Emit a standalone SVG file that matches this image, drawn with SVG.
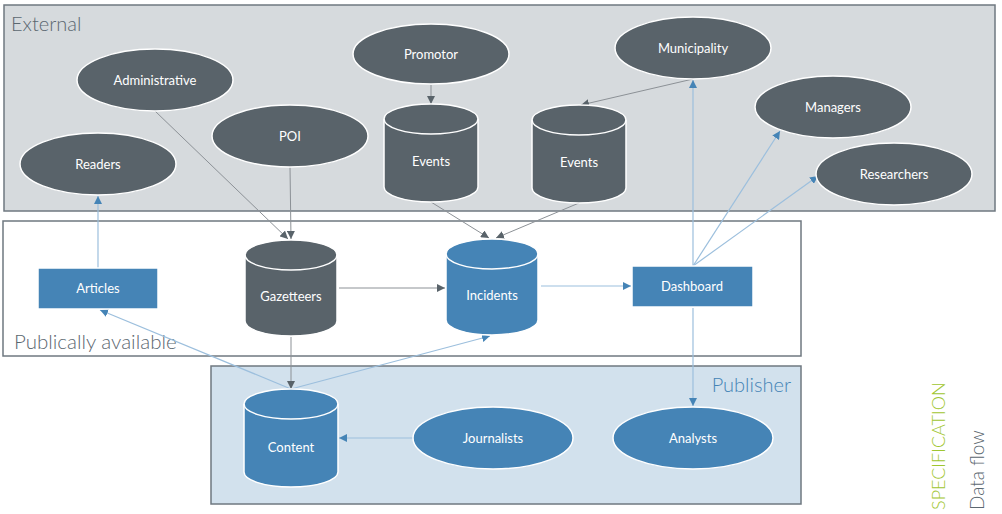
<svg xmlns="http://www.w3.org/2000/svg" width="1002" height="514" viewBox="0 0 1002 514">
<style>
.lbl{font-family:Lato,"Open Sans","Liberation Sans",sans-serif;font-size:13px;fill:#ffffff;text-anchor:middle}
.title{font-family:Lato,"Open Sans","Liberation Sans",sans-serif;font-weight:300}
.dark{fill:#59636a;stroke:#ffffff;stroke-width:1.5}
.blue{fill:#4584b6;stroke:#ffffff;stroke-width:1.5}
.cap{fill:none;stroke:#ffffff;stroke-width:1.5}
.gl{stroke:#8c9196;stroke-width:1;fill:none;marker-end:url(#ag)}
.bl{stroke:#9cbfdd;stroke-width:1.2;fill:none;marker-end:url(#ab)}
</style>
<defs>
<marker id="ag" viewBox="0 0 8 8" refX="8" refY="4" markerWidth="8" markerHeight="8" markerUnits="userSpaceOnUse" orient="auto"><path d="M0,0 L8,4 L0,8 z" fill="#59636a"/></marker>
<marker id="ab" viewBox="0 0 8 8" refX="8" refY="4" markerWidth="8" markerHeight="8" markerUnits="userSpaceOnUse" orient="auto"><path d="M0,0 L8,4 L0,8 z" fill="#4584b6"/></marker>
</defs>
<rect width="1002" height="514" fill="#ffffff"/>
<g id="zone-external">
<rect x="4" y="5" width="991" height="206" fill="#d6dadd" stroke="#6f7880" stroke-width="1.5"/>
<text class="title" x="11" y="31" fill="#5b6770" font-size="20">External</text>
</g>
<g id="zone-public">
<rect x="3" y="221" width="798" height="135" fill="#ffffff" stroke="#6f7880" stroke-width="1.5"/>
<text class="title" x="14" y="349" fill="#5b6770" font-size="20.5">Publically available</text>
</g>
<g id="zone-publisher">
<rect x="211" y="366" width="590" height="138" fill="#d2e1ed" stroke="#6f7880" stroke-width="1.5"/>
<text class="title" x="791" y="392" fill="#4584b6" text-anchor="end" font-size="20">Publisher</text>
</g>
<g id="connectors">
<line class="gl" x1="431" y1="85" x2="431" y2="104"/>
<line class="gl" x1="693" y1="79" x2="581" y2="105"/>
<line class="gl" x1="155" y1="111" x2="288" y2="239"/>
<line class="gl" x1="290" y1="167" x2="291" y2="239"/>
<line class="gl" x1="431" y1="202" x2="489" y2="238"/>
<line class="gl" x1="579" y1="203" x2="496" y2="238"/>
<line class="gl" x1="339" y1="288" x2="445" y2="288"/>
<line class="gl" x1="291" y1="337" x2="291" y2="389"/>
<line class="bl" x1="98" y1="268" x2="98" y2="196"/>
<line class="bl" x1="541" y1="286" x2="631" y2="286"/>
<line class="bl" x1="693" y1="266" x2="693" y2="80"/>
<line class="bl" x1="693" y1="266" x2="780" y2="131"/>
<line class="bl" x1="693" y1="266" x2="818" y2="176"/>
<line class="bl" x1="693" y1="308" x2="693" y2="406"/>
<line class="bl" x1="291" y1="389" x2="100" y2="310"/>
<line class="bl" x1="291" y1="389" x2="490" y2="336"/>
<line class="bl" x1="413" y1="438" x2="339" y2="438"/>
</g>
<g id="administrative"><ellipse class="dark" cx="155" cy="80" rx="78" ry="31"/><text class="lbl" x="155" y="85">Administrative</text></g>
<g id="poi"><ellipse class="dark" cx="290" cy="136" rx="78" ry="31"/><text class="lbl" x="290" y="141">POI</text></g>
<g id="readers"><ellipse class="dark" cx="98" cy="164" rx="78" ry="31"/><text class="lbl" x="98" y="169">Readers</text></g>
<g id="promotor"><ellipse class="dark" cx="431" cy="54" rx="78" ry="30"/><text class="lbl" x="431" y="59">Promotor</text></g>
<g id="municipality"><ellipse class="dark" cx="693" cy="48" rx="78" ry="31"/><text class="lbl" x="693" y="53">Municipality</text></g>
<g id="managers"><ellipse class="dark" cx="833" cy="107" rx="78" ry="31"/><text class="lbl" x="833" y="112">Managers</text></g>
<g id="researchers"><ellipse class="dark" cx="894" cy="174" rx="78" ry="31"/><text class="lbl" x="894" y="179">Researchers</text></g>
<g id="events-1">
<path class="dark" d="M384,119 A47,15 0 0 1 478,119 V187 A47,15 0 0 1 384,187 Z"/>
<path class="cap" d="M384,119 A47,15 0 0 0 478,119"/>
<text class="lbl" x="431" y="166">Events</text>
</g>
<g id="events-2">
<path class="dark" d="M532,120 A47,15 0 0 1 626,120 V188 A47,15 0 0 1 532,188 Z"/>
<path class="cap" d="M532,120 A47,15 0 0 0 626,120"/>
<text class="lbl" x="579" y="167">Events</text>
</g>
<g id="gazetteers">
<path class="dark" d="M245,255 A46,15 0 0 1 337,255 V321 A46,15 0 0 1 245,321 Z"/>
<path class="cap" d="M245,255 A46,15 0 0 0 337,255"/>
<text class="lbl" x="291" y="301">Gazetteers</text>
</g>
<g id="incidents">
<path class="blue" d="M446,254 A46,15 0 0 1 538,254 V320 A46,15 0 0 1 446,320 Z"/>
<path class="cap" d="M446,254 A46,15 0 0 0 538,254"/>
<text class="lbl" x="492" y="300">Incidents</text>
</g>
<g id="content">
<path class="blue" d="M244,404 A47,15 0 0 1 338,404 V472 A47,15 0 0 1 244,472 Z"/>
<path class="cap" d="M244,404 A47,15 0 0 0 338,404"/>
<text class="lbl" x="291" y="452">Content</text>
</g>
<g id="articles"><rect class="blue" x="38" y="268" width="120" height="41"/><text class="lbl" x="98" y="293">Articles</text></g>
<g id="dashboard"><rect class="blue" x="632" y="266" width="121" height="41"/><text class="lbl" x="692" y="291">Dashboard</text></g>
<g id="journalists"><ellipse class="blue" cx="493" cy="438" rx="80" ry="31"/><text class="lbl" x="493" y="443">Journalists</text></g>
<g id="analysts"><ellipse class="blue" cx="693" cy="438" rx="80" ry="31"/><text class="lbl" x="693" y="443">Analysts</text></g>
<g id="legend">
<text class="title" x="945" y="510" font-size="18" fill="#9fc630" transform="rotate(-90 945 510)">SPECIFICATION</text>
<text class="title" x="984" y="510" font-size="19" fill="#5b6770" transform="rotate(-90 984 510)">Data flow</text>
</g>
</svg>
